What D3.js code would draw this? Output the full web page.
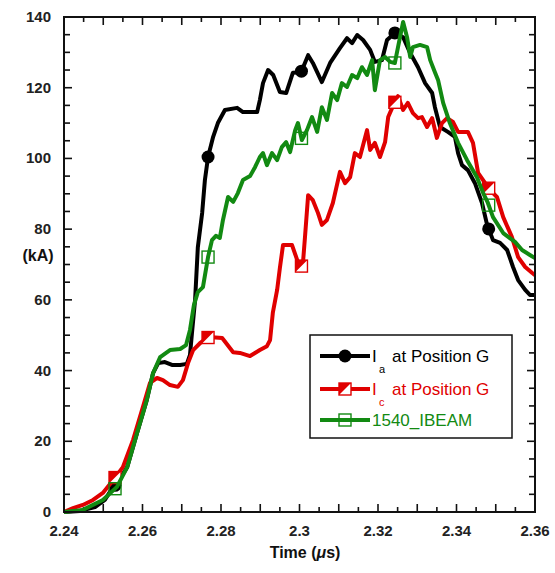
<!DOCTYPE html>
<html>
<head>
<meta charset="utf-8">
<style>
  body { margin: 0; background: #fff; }
  text { font-family: "Liberation Sans", Arial, sans-serif; }
</style>
</head>
<body>
<div id="chart"></div>
<script src="https://d3js.org/d3.v7.min.js"></script>
<script>
  // values (time in us, current in kA)
  const blackT = [2.2400, 2.2441, 2.2479, 2.2504, 2.2525, 2.2535, 2.2561, 2.2586, 2.2611, 2.2627, 2.2640, 2.2657, 2.2675, 2.2696, 2.2713, 2.2721, 2.2726, 2.2734, 2.2741, 2.2752, 2.2759, 2.2767, 2.2780, 2.2792, 2.2810, 2.2841, 2.2856, 2.2892, 2.2899, 2.2907, 2.2920, 2.2933, 2.2950, 2.2966, 2.2983, 2.3004, 2.3022, 2.3034, 2.3057, 2.3078, 2.3103, 2.3121, 2.3134, 2.3147, 2.3162, 2.3180, 2.3192, 2.3210, 2.3223, 2.3243, 2.3264, 2.3282, 2.3302, 2.3320, 2.3338, 2.3345, 2.3358, 2.3378, 2.3396, 2.3404, 2.3414, 2.3429, 2.3447, 2.3465, 2.3478, 2.3493, 2.3511, 2.3529, 2.3544, 2.3557, 2.3575, 2.3587, 2.3600];
  const blackV = [0, 0.3, 1.4, 3.4, 7.1, 8.0, 12.7, 22.3, 31.7, 39.3, 42.1, 42.4, 41.6, 41.6, 41.9, 44.4, 50.6, 60.0, 74.9, 84.6, 93.9, 100.4, 106.1, 110.0, 113.7, 114.3, 113.1, 113.1, 116.5, 121.3, 125.0, 123.6, 118.8, 118.5, 124.2, 124.4, 129.2, 127.0, 121.6, 127.0, 131.2, 134.0, 132.6, 134.9, 133.5, 130.7, 127.3, 127.8, 133.5, 135.5, 134.3, 129.8, 125.8, 121.3, 118.5, 114.5, 108.9, 107.5, 106.1, 101.5, 98.1, 96.7, 93.0, 87.4, 81.2, 76.9, 76.1, 74.1, 69.3, 65.6, 62.8, 61.4, 61.4];

  const redT = [2.2400, 2.2423, 2.2448, 2.2474, 2.2499, 2.2525, 2.2550, 2.2576, 2.2601, 2.2619, 2.2637, 2.2652, 2.2670, 2.2690, 2.2703, 2.2716, 2.2729, 2.2747, 2.2769, 2.2803, 2.2831, 2.2848, 2.2874, 2.2899, 2.2917, 2.2925, 2.2932, 2.2943, 2.2950, 2.2958, 2.2981, 2.2994, 2.3001, 2.3009, 2.3014, 2.3022, 2.3034, 2.3047, 2.3057, 2.3070, 2.3085, 2.3103, 2.3116, 2.3129, 2.3141, 2.3154, 2.3172, 2.3180, 2.3192, 2.3205, 2.3218, 2.3226, 2.3238, 2.3251, 2.3264, 2.3276, 2.3289, 2.3302, 2.3312, 2.3325, 2.3338, 2.3350, 2.3363, 2.3376, 2.3391, 2.3404, 2.3429, 2.3442, 2.3455, 2.3473, 2.3485, 2.3503, 2.3519, 2.3541, 2.3557, 2.3575, 2.3593, 2.3600];
  const redV = [0, 1.1, 2.0, 3.4, 5.4, 9.0, 12.7, 20.4, 29.7, 36.5, 37.9, 37.3, 35.9, 35.4, 37.3, 42.1, 45.8, 47.8, 49.5, 49.2, 45.2, 45.0, 44.1, 45.8, 46.9, 48.6, 56.3, 62.8, 69.0, 75.5, 75.5, 71.3, 68.4, 70.7, 77.8, 89.6, 88.2, 84.6, 81.2, 82.6, 87.4, 96.2, 93.0, 94.7, 101.5, 100.4, 108.0, 102.4, 104.4, 100.4, 104.6, 111.7, 114.8, 117.6, 113.7, 115.7, 112.8, 111.4, 111.7, 108.9, 111.4, 105.8, 110.0, 111.4, 110.3, 107.5, 107.5, 104.4, 95.9, 93.0, 91.1, 89.1, 83.4, 77.8, 72.1, 69.3, 67.6, 67.0];

  const greenT = [2.2400, 2.2448, 2.2499, 2.2535, 2.2561, 2.2586, 2.2611, 2.2627, 2.2645, 2.2670, 2.2696, 2.2711, 2.2721, 2.2731, 2.2741, 2.2754, 2.2767, 2.2777, 2.2787, 2.2797, 2.2805, 2.2818, 2.2831, 2.2843, 2.2856, 2.2874, 2.2887, 2.2899, 2.2907, 2.2917, 2.2930, 2.2943, 2.2955, 2.2966, 2.2976, 2.2989, 2.2996, 2.3006, 2.3019, 2.3032, 2.3045, 2.3057, 2.3070, 2.3083, 2.3096, 2.3108, 2.3121, 2.3134, 2.3147, 2.3159, 2.3172, 2.3185, 2.3192, 2.3205, 2.3218, 2.3231, 2.3243, 2.3251, 2.3264, 2.3274, 2.3282, 2.3289, 2.3307, 2.3325, 2.3333, 2.3345, 2.3353, 2.3366, 2.3383, 2.3404, 2.3427, 2.3452, 2.3468, 2.3480, 2.3493, 2.3519, 2.3549, 2.3567, 2.3587, 2.3600];
  const greenV = [0, 0.6, 3.4, 7.1, 12.7, 22.3, 31.7, 39.3, 43.8, 45.8, 46.1, 47.2, 51.5, 58.5, 62.2, 63.6, 72.1, 76.9, 78.1, 77.5, 82.6, 89.1, 87.7, 90.2, 93.9, 95.0, 97.6, 100.4, 101.5, 98.1, 101.5, 99.5, 103.2, 104.6, 101.8, 108.0, 110.0, 105.2, 108.0, 111.7, 107.5, 114.5, 110.9, 118.5, 116.5, 121.3, 120.2, 123.6, 122.7, 125.8, 123.6, 127.8, 119.3, 127.8, 128.7, 127.3, 127.0, 131.5, 138.6, 134.3, 128.7, 131.5, 132.1, 131.5, 127.8, 124.4, 122.2, 115.7, 110.0, 104.4, 99.5, 94.7, 90.2, 87.4, 83.4, 78.9, 76.4, 74.1, 72.7, 71.8];

  // symbols sit at these times on every curve
  const markerTimes = [2.2530, 2.2767, 2.3005, 2.3243, 2.3482];

  const xTickLabels = [2.24, 2.26, 2.28, 2.3, 2.32, 2.34, 2.36];
  const yTickLabels = [0, 20, 40, 60, 80, 100, 120, 140];

  const BLACK = "#000000", RED = "#e00000", GREEN = "#128a12";

  const W = 555, H = 573;
  const margin = { top: 17, right: 20, bottom: 61, left: 64 },
        width = W - margin.left - margin.right,
        height = H - margin.top - margin.bottom;

  const svg = d3.select("#chart").append("svg")
    .attr("width", W)
    .attr("height", H);

  const g = svg.append("g")
    .attr("transform", `translate(${margin.left},${margin.top})`);

  const x = d3.scaleLinear().domain([2.24, 2.36]).range([0, width]);
  const y = d3.scaleLinear().domain([0, 140]).range([height, 0]);

  // inward ticks on all four sides
  const xMinor = d3.range(0, 25).map(i => 2.24 + i * 0.005);
  const yMinor = d3.range(0, 29).map(i => i * 5);
  const isMajorX = d => Math.abs(Math.round(d * 100) - d * 100) < 1e-6;
  const isMajorY = d => d % 20 === 0;

  const ticks = g.append("g").attr("stroke", "#111").attr("stroke-width", 1.6);
  xMinor.forEach(d => {
    const L = isMajorX(d) ? 8 : 5;
    ticks.append("line").attr("x1", x(d)).attr("x2", x(d)).attr("y1", height).attr("y2", height - L);
    ticks.append("line").attr("x1", x(d)).attr("x2", x(d)).attr("y1", 0).attr("y2", L);
  });
  yMinor.forEach(d => {
    const L = isMajorY(d) ? 8 : 6;
    ticks.append("line").attr("x1", 0).attr("x2", L).attr("y1", y(d)).attr("y2", y(d));
    ticks.append("line").attr("x1", width).attr("x2", width - L).attr("y1", y(d)).attr("y2", y(d));
  });

  g.append("g").selectAll("text").data(xTickLabels).join("text")
    .attr("x", d => x(d)).attr("y", height + 24)
    .attr("text-anchor", "middle")
    .attr("font-size", 15).attr("font-weight", "bold").attr("fill", "#222")
    .text(d => d3.format("")(d));

  g.append("g").selectAll("text").data(yTickLabels).join("text")
    .attr("x", -13).attr("y", d => y(d) + 5)
    .attr("text-anchor", "end")
    .attr("font-size", 15).attr("font-weight", "bold").attr("fill", "#222")
    .text(d => d);

  // axis titles
  const xt = svg.append("text")
    .attr("x", 305).attr("y", 558)
    .attr("text-anchor", "middle")
    .attr("font-size", 16).attr("font-weight", "bold").attr("fill", "#111");
  xt.append("tspan").text("Time (");
  xt.append("tspan").attr("font-style", "italic").text("\u03bc");
  xt.append("tspan").text("s)");

  svg.append("text")
    .attr("x", 38).attr("y", 261)
    .attr("text-anchor", "middle")
    .attr("font-size", 16).attr("font-weight", "bold").attr("fill", "#111")
    .text("(kA)");

  const line = d3.line().x(d => x(d[0])).y(d => y(d[1]));

  // drawing order: black at the bottom, green on top
  const series = [
    { t: blackT, v: blackV, color: BLACK, sym: "circle" },
    { t: redT, v: redV, color: RED, sym: "half" },
    { t: greenT, v: greenV, color: GREEN, sym: "square" }
  ];

  function valueAt(ts, vs, t) {
    const i = Math.max(1, d3.bisectLeft(ts, t));
    const f = (t - ts[i - 1]) / (ts[i] - ts[i - 1]);
    return vs[i - 1] + f * (vs[i] - vs[i - 1]);
  }

  function drawSymbol(sel, cx, cy, kind, color) {
    const s = 6;
    if (kind === "circle") {
      sel.append("circle").attr("cx", cx).attr("cy", cy).attr("r", 6.5).attr("fill", color);
    } else if (kind === "square") {
      sel.append("rect").attr("x", cx - s).attr("y", cy - s).attr("width", 2 * s).attr("height", 2 * s)
        .attr("fill", "none").attr("stroke", color).attr("stroke-width", 1.4);
    } else {
      sel.append("rect").attr("x", cx - s).attr("y", cy - s).attr("width", 2 * s).attr("height", 2 * s)
        .attr("fill", "#fff").attr("stroke", color).attr("stroke-width", 1.4);
      sel.append("path")
        .attr("d", `M${cx - s},${cy - s}L${cx + s},${cy - s}L${cx - s},${cy + s}Z`)
        .attr("fill", color);
    }
  }

  const plot = g.append("g");
  series.forEach(s => {
    const pts = s.t.map((t, i) => [t, s.v[i]]);
    plot.append("path").datum(pts)
      .attr("fill", "none")
      .attr("stroke", s.color)
      .attr("stroke-width", 4)
      .attr("stroke-linejoin", "round")
      .attr("d", line);
    markerTimes.forEach(t => {
      drawSymbol(plot, x(t), y(valueAt(s.t, s.v, t)), s.sym, s.color);
    });
  });

  // frame
  g.append("rect").attr("width", width).attr("height", height)
    .attr("fill", "none").attr("stroke", "#111").attr("stroke-width", 2);

  // legend
  const leg = svg.append("g").attr("transform", "translate(310,335)");
  leg.append("rect").attr("width", 202).attr("height", 103)
    .attr("fill", "#fff").attr("stroke", "#111").attr("stroke-width", 1.5);

  const legendRows = [
    { color: BLACK, sym: "circle", sub: "a", label: "at Position G", y: 21 },
    { color: RED, sym: "half", sub: "c", label: "at Position G", y: 54 },
    { color: GREEN, sym: "square", sub: null, label: "1540_IBEAM", y: 85 }
  ];
  legendRows.forEach(r => {
    leg.append("line").attr("x1", 10).attr("x2", 60).attr("y1", r.y).attr("y2", r.y)
      .attr("stroke", r.color).attr("stroke-width", 4);
    drawSymbol(leg, 35, r.y, r.sym, r.color);
    if (r.sub) {
      leg.append("text").attr("x", 62).attr("y", r.y + 6)
        .attr("font-size", 17).attr("fill", r.color).text("I");
      leg.append("text").attr("x", 69).attr("y", r.y + 17)
        .attr("font-size", 11).attr("fill", r.color).text(r.sub);
      leg.append("text").attr("x", 82).attr("y", r.y + 6)
        .attr("font-size", 17).attr("fill", r.color).text(r.label);
    } else {
      leg.append("text").attr("x", 62).attr("y", r.y + 6)
        .attr("font-size", 17).attr("fill", r.color).text(r.label);
    }
  });
</script>
</body>
</html>
